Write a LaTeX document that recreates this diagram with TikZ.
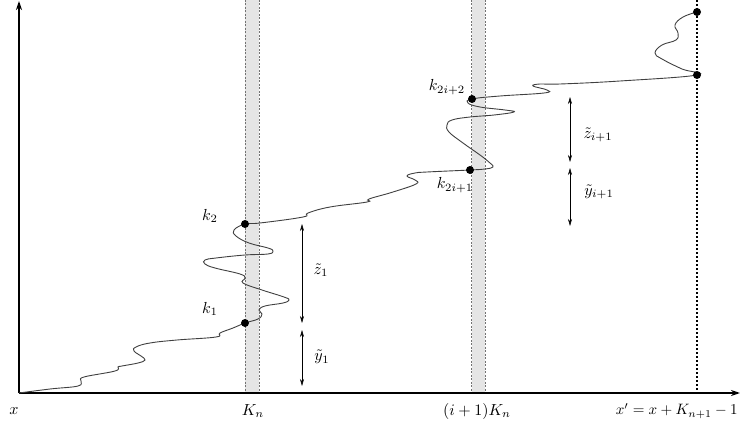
\documentclass[tikz,border=0pt]{standalone}
\usetikzlibrary{arrows.meta}
\begin{document}
\begin{tikzpicture}[x=1pt,y=-1pt,
  lbl/.style={scale=1.6, inner sep=0pt},
  axisline/.style={line width=1.6pt, -{Stealth[length=9pt,width=6pt]}},
  band/.style={fill=black!10, draw=none},
  bandedge/.style={draw=black!55, line width=0.5pt, dash pattern=on 2pt off 1.5pt},
  dimarrow/.style={line width=0.5pt, {Stealth[length=7pt,width=4pt]}-{Stealth[length=7pt,width=4pt]}},
  walk/.style={draw=black!75, line width=0.9pt},
  dot/.style={circle, fill=black, inner sep=0pt, minimum size=8pt}]
\useasboundingbox (0,0) rectangle (740,428);
% bands
\fill[band] (245,0) rectangle (259,393);
\fill[band] (471.5,0) rectangle (485,393);
\draw[bandedge] (245,0) -- (245,393);
\draw[bandedge] (259,0) -- (259,393);
\draw[bandedge] (471.5,0) -- (471.5,393);
\draw[bandedge] (485,0) -- (485,393);
\draw[line width=1.3pt, dash pattern=on 2pt off 2pt] (697,0) -- (697,393);
% axes
\coordinate (O) at (19,393);
\coordinate (ytop) at (19,1);
\coordinate (xend) at (740,393);
\draw[axisline] (O) -- (ytop);
\draw[axisline] (O) -- (xend);
% walk
\draw[walk] plot[smooth, tension=0.7] coordinates {
(19,393) (50,389) (78,386) (81,381) (84,377) (115,371) (118,367) (122,366) (138,363) (145,360) (141,356) (134,351) (136,347) (150,343) (177,340) (216,337) (220,333) (233,328) (245,323)
(258,319) (262,314) (259,310) (265,306) (283,303) (289,300) (284,297) (262,290) (243,283) (245,278) (240,274) (215,268) (205,264) (205,260) (216,258) (245,255) (268,254) (273,251) (268,248) (249,243) (236,236) (234,230) (245,224)
(260,223) (303,217) (308,213) (330,207) (367,202) (369,199) (393,192) (416,184) (415,180) (407,176) (415,173) (427,172) (470,170)
(485,169) (493,167) (490,163) (480,155) (463,143) (449,132) (447,125) (452,120) (470,117) (494,115) (514,112) (505,110) (480,107) (468,103) (472,99)
(500,96) (544,93) (547,90) (533,86) (540,84) (560,84) (620,81) (697,75)
(682,69) (662,59) (655,53) (662,45) (676,40) (678,33) (675,25) (683,17) (697,12)};
% dots
\node[dot] (k1) at (245,323) {};
\node[dot] (k2) at (245,224) {};
\node[dot] (k3) at (470,170) {};
\node[dot] (k4) at (472,99) {};
\node[dot] (r1) at (697,75) {};
\node[dot] (r2) at (697,12) {};
% labels of points
\node[lbl] (lk1) at (210,309) {$k_1$};
\node[lbl] (lk2) at (210,216) {$k_2$};
\node[lbl] (lk4) at (447,87) {$k_{2i+2}$};
\node[lbl] (lk3) at (455,185) {$k_{2i+1}$};
% dimension arrows
\coordinate (z1a) at (302,224);
\coordinate (z1b) at (302,323);
\coordinate (y1a) at (302,330);
\coordinate (y1b) at (302,386);
\coordinate (zia) at (570,97);
\coordinate (zib) at (570,162);
\coordinate (yia) at (570,168);
\coordinate (yib) at (570,226);
\draw[dimarrow] (z1a) -- (z1b);
\draw[dimarrow] (y1a) -- (y1b);
\draw[dimarrow] (zia) -- (zib);
\draw[dimarrow] (yia) -- (yib);
\node[lbl] (lz1) at (321,270) {$\tilde z_1$};
\node[lbl] (ly1) at (322,357) {$\tilde y_1$};
\node[lbl] (lzi) at (598,135) {$\tilde z_{i+1}$};
\node[lbl] (lyi) at (599,192) {$\tilde y_{i+1}$};
% axis labels
\node[lbl] (lx) at (14,411) {$x$};
\node[lbl] (lKn) at (253,411) {$K_n$};
\node[lbl] (liKn) at (477,411) {$(i+1)K_n$};
\node[lbl, scale=0.94, anchor=east] (lxp) at (738,411) {$x' = x + K_{n+1} - 1$};
\end{tikzpicture}
\end{document}
